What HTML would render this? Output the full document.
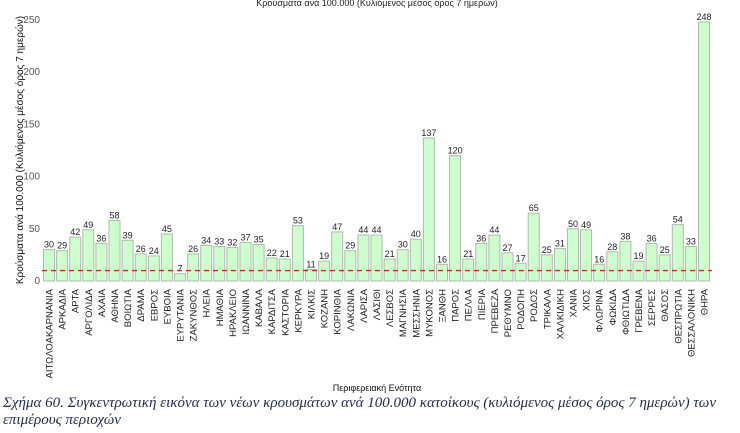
<!DOCTYPE html>
<html><head><meta charset="utf-8"><style>
body{margin:0;background:#fff;width:740px;height:433px;overflow:hidden}
svg text{font-family:"Liberation Sans",sans-serif}
.cap{position:absolute;left:3px;top:395px;width:730px;font-family:"Liberation Serif",serif;font-style:italic;font-size:15px;line-height:17px;color:#1f2d4d}
</style></head><body>
<svg id="c" width="740" height="433" style="position:absolute;left:0;top:0">
<text x="377" y="6" font-size="9" text-anchor="middle" fill="#222">Κρούσματα ανά 100.000 (Κυλιόμενος μέσος όρος 7 ημερών)</text>
<text transform="translate(23,150) rotate(-90)" font-size="10" text-anchor="middle" fill="#111">Κρούσματα ανά 100.000 (Κυλιόμενος μέσος όρος 7 ημερών)</text>
<text x="377" y="391" font-size="9" text-anchor="middle" fill="#111">Περιφερειακή Ενότητα</text>
<g id="g"></g>
</svg>
<div class="cap">Σχήμα 60. Συγκεντρωτική εικόνα των νέων κρουσμάτων ανά 100.000 κατοίκους (κυλιόμενος μέσος όρος 7 ημερών) των επιμέρους περιοχών</div>
<script>
const categories=["ΑΙΤΩΛΟΑΚΑΡΝΑΝΙΑ","ΑΡΚΑΔΙΑ","ΑΡΤΑ","ΑΡΓΟΛΙΔΑ","ΑΧΑΙΑ","ΑΘΗΝΑ","ΒΟΙΩΤΙΑ","ΔΡΑΜΑ","ΕΒΡΟΣ","ΕΥΒΟΙΑ","ΕΥΡΥΤΑΝΙΑ","ΖΑΚΥΝΘΟΣ","ΗΛΕΙΑ","ΗΜΑΘΙΑ","ΗΡΑΚΛΕΙΟ","ΙΩΑΝΝΙΝΑ","ΚΑΒΑΛΑ","ΚΑΡΔΙΤΣΑ","ΚΑΣΤΟΡΙΑ","ΚΕΡΚΥΡΑ","ΚΙΛΚΙΣ","ΚΟΖΑΝΗ","ΚΟΡΙΝΘΙΑ","ΛΑΚΩΝΙΑ","ΛΑΡΙΣΑ","ΛΑΣΙΘΙ","ΛΕΣΒΟΣ","ΜΑΓΝΗΣΙΑ","ΜΕΣΣΗΝΙΑ","ΜΥΚΟΝΟΣ","ΞΑΝΘΗ","ΠΑΡΟΣ","ΠΕΛΛΑ","ΠΙΕΡΙΑ","ΠΡΕΒΕΖΑ","ΡΕΘΥΜΝΟ","ΡΟΔΟΠΗ","ΡΟΔΟΣ","ΤΡΙΚΑΛΑ","ΧΑΛΚΙΔΙΚΗ","ΧΑΝΙΑ","ΧΙΟΣ","ΦΛΩΡΙΝΑ","ΦΩΚΙΔΑ","ΦΘΙΩΤΙΔΑ","ΓΡΕΒΕΝΑ","ΣΕΡΡΕΣ","ΘΑΣΟΣ","ΘΕΣΠΡΩΤΙΑ","ΘΕΣΣΑΛΟΝΙΚΗ","ΘΗΡΑ"];
const values=[30,29,42,49,36,58,39,26,24,45,7,26,34,33,32,37,35,22,21,53,11,19,47,29,44,44,21,30,40,137,16,120,21,36,44,27,17,65,25,31,50,49,16,28,38,19,36,25,54,33,248];
const yTicks=[0,50,100,150,200,250];
const threshold=[10];
const NS="http://www.w3.org/2000/svg",g=document.getElementById('g');
const y=v=>281-v*261/250, x=i=>49+i*13.1;
function mk(t,a,txt){const e=document.createElementNS(NS,t);for(const k in a)e.setAttribute(k,a[k]);if(txt!==undefined)e.textContent=txt;g.appendChild(e);return e;}
yTicks.forEach(t=>{const e=mk('text',{x:40,y:y(t)+3,'font-size':10,'text-anchor':'end',fill:'#555'},t);

});
values.forEach((v,i)=>{
const r=mk('rect',{x:x(i)-5.5,y:y(v),width:11,height:y(0)-y(v),fill:'#ccffcc',stroke:'#b0b8b0','stroke-width':1});


const l=mk('text',{x:x(i),y:y(v)-2,'font-size':9,'text-anchor':'middle',fill:'#222'},v);


const c=mk('text',{transform:`translate(${x(i)+3.5},289) rotate(-90)`,'font-size':9.5,'text-anchor':'end',fill:'#222'},categories[i]);


});
const d=mk('line',{x1:42,x2:712,y1:y(threshold[0]),y2:y(threshold[0]),stroke:'#e02020','stroke-width':1.3,'stroke-dasharray':'5,4'});


</script>
</body></html>
